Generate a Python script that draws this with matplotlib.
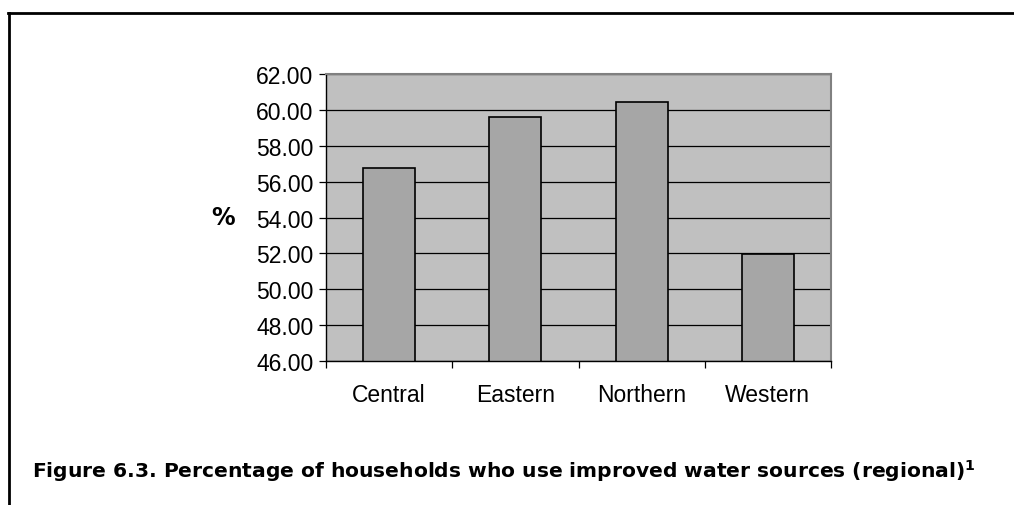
import matplotlib.pyplot as plt
from matplotlib.lines import Line2D

regions = ['Central', 'Eastern', 'Northern', 'Western']
percent = [56.75, 59.58, 60.46, 51.99]
y_ticks = [46, 48, 50, 52, 54, 56, 58, 60, 62]

caption = r'Figure 6.3. Percentage of households who use improved water sources (regional)$^\mathbf{1}$'

fig = plt.figure(figsize=(10.14, 5.06), dpi=100)
ax = fig.add_axes([326 / 1014, 1 - 362 / 506, 505 / 1014, 287 / 506])

ax.set_facecolor('#c0c0c0')
ax.set_axisbelow(True)
ax.yaxis.grid(True, color='black', linewidth=0.9)

x = list(range(len(regions)))
ax.bar(x, percent, width=0.41, color='#a6a6a6', edgecolor='black', linewidth=1.2)

ax.set_xlim(-0.5, len(regions) - 0.5)
ax.set_ylim(46, 62)
ax.set_yticks(y_ticks)
ax.set_yticklabels(['%.2f' % v for v in y_ticks], fontfamily='Liberation Sans', fontsize=16.5)
ax.tick_params(axis='y', direction='out', length=5, width=0.9, pad=4)

# category labels at centres, tick marks at the boundaries
ax.set_xticks(x)
ax.set_xticklabels(regions, fontfamily='Liberation Sans', fontsize=16.5)
ax.tick_params(axis='x', which='major', length=0, pad=16)
ax.set_xticks([i - 0.5 for i in range(len(regions) + 1)], minor=True)
ax.tick_params(axis='x', which='minor', direction='out', length=5, width=0.9)

for side in ['left', 'bottom']:
    ax.spines[side].set_color('black')
    ax.spines[side].set_linewidth(1.0)
for side in ['top', 'right']:
    ax.spines[side].set_color('#808080')
    ax.spines[side].set_linewidth(1.5)

fig.text(223 / 1014, 1 - 218 / 506, '%', fontsize=17, fontweight='bold',
         fontfamily='DejaVu Sans', ha='center', va='center')

fig.text(32 / 1014, 1 - 471 / 506, caption, fontsize=14.6, fontweight='bold',
         fontfamily='DejaVu Sans', ha='left', va='center')

# frame lines of the page
fig.add_artist(Line2D([8 / 1014, 1], [1 - 14 / 506, 1 - 14 / 506], color='black', linewidth=2.0))
fig.add_artist(Line2D([9 / 1014, 9 / 1014], [1 - 14 / 506, 0], color='black', linewidth=2.0))

fig.savefig('out.png', dpi=100)
